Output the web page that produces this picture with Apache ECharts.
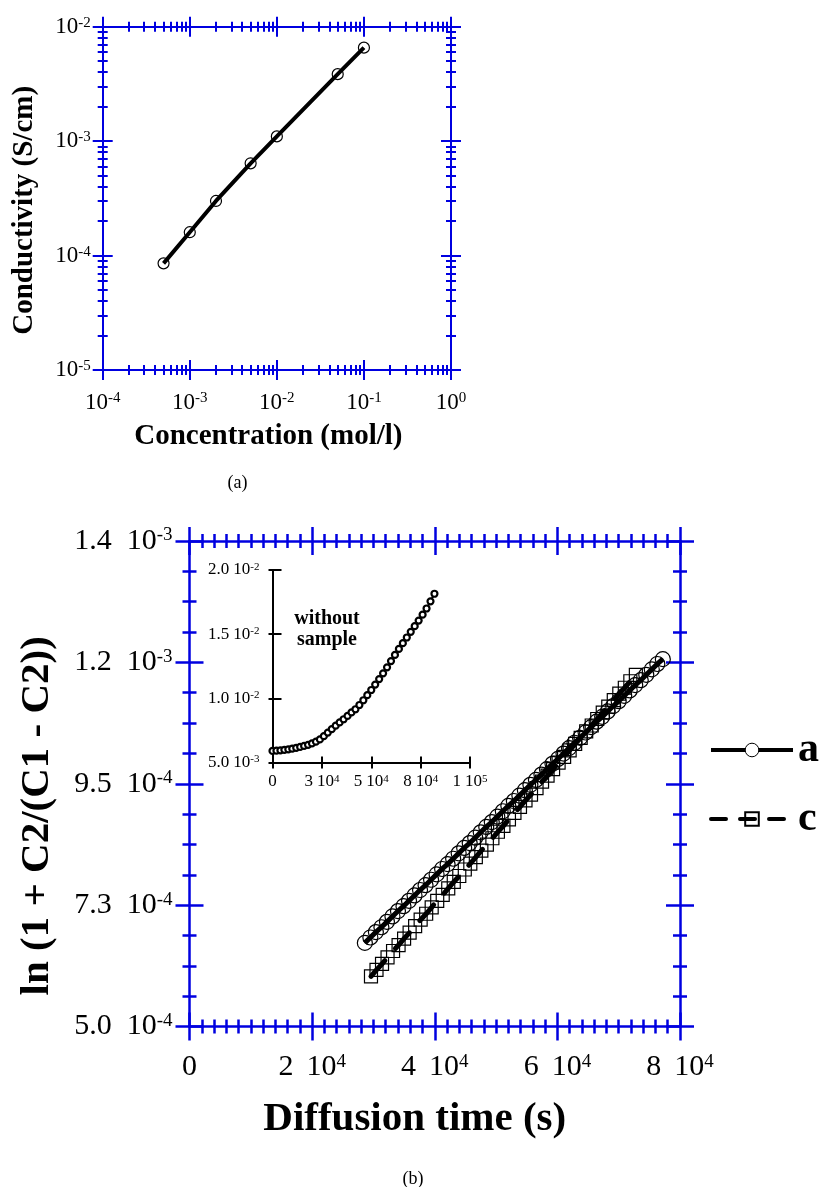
<!DOCTYPE html>
<html>
<head>
<meta charset="utf-8">
<script src="https://cdn.jsdelivr.net/npm/echarts@6.0.0/dist/echarts.min.js"></script>
<style>
  html, body { margin: 0; padding: 0; background: #fff; }
  #chart { width: 821px; height: 1187px; }
</style>
</head>
<body>
<div id="chart"></div>
<script>
// ---------- (a) conductivity vs concentration ----------
const concA = [5e-4, 1e-3, 2e-3, 5e-3, 1e-2, 5e-2, 1e-1];
const condA = [8.55e-5, 1.6e-4, 3.0e-4, 6.4e-4, 1.1e-3, 3.85e-3, 6.56e-3];

// ---------- (b) diffusion runs a and c ----------
const timeA = [28600, 29500, 30400, 31300, 32200, 33100, 34000, 34900, 35800, 36700,
  37600, 38500, 39400, 40300, 41200, 42100, 43000, 43900, 44800, 45700,
  46600, 47500, 48400, 49300, 50200, 51100, 52000, 52900, 53800, 54700,
  55600, 56500, 57400, 58300, 59200, 60100, 61000, 61900, 62800, 63700,
  64600, 65500, 66400, 67300, 68200, 69100, 70000, 70900, 71800, 72700,
  73600, 74500, 75400, 76300, 77200];
const lnA = [6.55e-4, 6.65e-4, 6.75e-4, 6.84e-4, 6.94e-4, 7.04e-4, 7.14e-4, 7.23e-4, 7.33e-4, 7.43e-4,
  7.53e-4, 7.62e-4, 7.72e-4, 7.82e-4, 7.92e-4, 8.01e-4, 8.11e-4, 8.21e-4, 8.31e-4, 8.40e-4,
  8.50e-4, 8.60e-4, 8.70e-4, 8.79e-4, 8.89e-4, 8.99e-4, 9.09e-4, 9.18e-4, 9.28e-4, 9.38e-4,
  9.48e-4, 9.57e-4, 9.67e-4, 9.77e-4, 9.87e-4, 9.96e-4, 10.06e-4, 10.16e-4, 10.26e-4, 10.35e-4,
  10.45e-4, 10.55e-4, 10.65e-4, 10.74e-4, 10.84e-4, 10.94e-4, 11.03e-4, 11.13e-4, 11.23e-4, 11.33e-4,
  11.42e-4, 11.52e-4, 11.62e-4, 11.72e-4, 11.81e-4];

const timeC = [29600, 30500, 31400, 32300, 33200, 34100, 35000, 35900, 36800, 37700,
  38600, 39500, 40400, 41300, 42200, 43100, 44000, 44900, 45800, 46700,
  47600, 48500, 49400, 50300, 51200, 52100, 53000, 53900, 54800, 55700,
  56600, 57500, 58400, 59300, 60200, 61100, 62000, 62900, 63800, 64700,
  65600, 66500, 67400, 68300, 69200, 70100, 71000, 71900, 72800];
const lnC = [5.93e-4, 6.05e-4, 6.16e-4, 6.28e-4, 6.40e-4, 6.51e-4, 6.63e-4, 6.74e-4, 6.86e-4, 6.98e-4,
  7.09e-4, 7.21e-4, 7.33e-4, 7.44e-4, 7.56e-4, 7.68e-4, 7.79e-4, 7.91e-4, 8.02e-4, 8.14e-4,
  8.26e-4, 8.37e-4, 8.49e-4, 8.61e-4, 8.72e-4, 8.84e-4, 8.96e-4, 9.07e-4, 9.19e-4, 9.30e-4,
  9.42e-4, 9.54e-4, 9.65e-4, 9.77e-4, 9.89e-4, 10.00e-4, 10.12e-4, 10.24e-4, 10.35e-4, 10.47e-4,
  10.58e-4, 10.70e-4, 10.82e-4, 10.93e-4, 11.05e-4, 11.17e-4, 11.28e-4, 11.40e-4, 11.52e-4];

// ---------- inset: run without sample ----------
const timeBlank = [0, 2000, 4000, 6000, 8000, 10000, 12000, 14000, 16000, 18000,
  20000, 22000, 24000, 26000, 28000, 30000, 32000, 34000, 36000, 38000,
  40000, 42000, 44000, 46000, 48000, 50000, 52000, 54000, 56000, 58000,
  60000, 62000, 64000, 66000, 68000, 70000, 72000, 74000, 76000, 78000,
  80000, 82000];
const lnBlank = [5.90e-3, 5.92e-3, 5.95e-3, 5.99e-3, 6.03e-3, 6.08e-3, 6.14e-3, 6.21e-3, 6.29e-3, 6.38e-3,
  6.49e-3, 6.62e-3, 6.80e-3, 7.05e-3, 7.33e-3, 7.60e-3, 7.87e-3, 8.12e-3, 8.37e-3, 8.63e-3,
  8.90e-3, 9.15e-3, 9.48e-3, 9.85e-3, 10.25e-3, 10.65e-3, 11.07e-3, 11.50e-3, 11.95e-3, 12.42e-3,
  12.90e-3, 13.38e-3, 13.85e-3, 14.30e-3, 14.74e-3, 15.18e-3, 15.62e-3, 16.06e-3, 16.52e-3, 17.00e-3,
  17.56e-3, 18.15e-3];

// ---------- tick values and their printed text ----------
const aXTicks = [1e-4, 1e-3, 1e-2, 1e-1, 1];
const aXTickText = [['', '-4'], ['', '-3'], ['', '-2'], ['', '-1'], ['', '0']];
const aYTicks = [1e-5, 1e-4, 1e-3, 1e-2];
const aYTickText = [['', '-5'], ['', '-4'], ['', '-3'], ['', '-2']];
const bXTicks = [0, 2e4, 4e4, 6e4, 8e4];
const bXTickText = [['0', ''], ['2', '4'], ['4', '4'], ['6', '4'], ['8', '4']];
const bYTicks = [5.0e-4, 7.25e-4, 9.5e-4, 1.175e-3, 1.4e-3];
const bYTickText = [['5.0', '-4'], ['7.3', '-4'], ['9.5', '-4'], ['1.2', '-3'], ['1.4', '-3']];
const inXTicks = [0, 2.5e4, 5e4, 7.5e4, 1e5];
const inXTickText = [['0', ''], ['3', '4'], ['5', '4'], ['8', '4'], ['1', '5']];
const inYTicks = [5e-3, 1e-2, 1.5e-2, 2e-2];
const inYTickText = [['5.0', '-3'], ['1.0', '-2'], ['1.5', '-2'], ['2.0', '-2']];

const SERIF = 'Liberation Serif';
const BLUE = '#0000e0';

// minor ticks: 2..9 inside each decade, or equal parts between linear majors
function logMinor(decades) {
  const out = [];
  for (let i = 0; i < decades.length - 1; i++) {
    for (let k = 2; k <= 9; k++) out.push(k * decades[i]);
  }
  return out;
}
function linearMinor(majors, parts) {
  const out = [];
  for (let i = 0; i < majors.length - 1; i++) {
    const step = (majors[i + 1] - majors[i]) / parts;
    for (let k = 1; k < parts; k++) out.push(majors[i] + k * step);
  }
  return out;
}

function sciFormatter(ticks, texts) {
  return function (value) {
    const i = ticks.findIndex(t => Math.abs(t - value) <= Math.abs(t) * 1e-6 + 1e-15);
    if (i < 0) return '';
    const m = texts[i][0], e = texts[i][1];
    if (!e) return '{m|' + m + '}';
    return (m ? '{m|' + m + '}{t|10}' : '{u|10}') + '{s|' + e + '}';
  };
}
function richSet(size, supSize, supLine, gap) {
  const base = { fontFamily: SERIF, fontSize: size, lineHeight: size, color: '#000' };
  return {
    m: Object.assign({}, base),
    t: Object.assign({}, base, { padding: [0, 0, 0, gap] }),
    u: Object.assign({}, base),
    s: { fontFamily: SERIF, fontSize: supSize, lineHeight: supLine, verticalAlign: 'top', color: '#000' }
  };
}

// ---------- axis frames: a line axis per side plus crossing tick axes ----------
const xAxes = [], yAxes = [];

function baseAxis(o, position) {
  const a = {
    gridIndex: o.grid, position: position, type: o.type, min: o.min, max: o.max,
    axisLine: { show: false, onZero: false },
    axisTick: { show: false },
    axisLabel: { show: false },
    splitLine: { show: false },
    minorTick: { show: false },
    minorSplitLine: { show: false },
    silent: true
  };
  if (o.type === 'log') a.logBase = 10;
  return a;
}

function buildFrame(list, o) {
  let mainIndex = -1;
  o.sides.forEach(side => {
    const main = baseAxis(o, side);
    main.axisLine = { show: true, onZero: false, lineStyle: { color: o.color, width: o.width } };
    if (side === o.labelSide) {
      main.axisLabel = o.label;
      if (o.name) Object.assign(main, o.name);
      mainIndex = list.length;
    }
    list.push(main);
    o.ticks.forEach(t => {
      [[t.inLen, true], [t.outLen, false]].forEach(([len, inside]) => {
        if (!len) return;
        const a = baseAxis(o, side);
        a.axisTick = {
          show: true, inside: inside, length: len, customValues: t.values,
          lineStyle: { color: o.color, width: o.width }
        };
        list.push(a);
      });
    });
  });
  return mainIndex;
}

// (a)
const axA = buildFrame(xAxes, {
  grid: 0, type: 'log', min: 1e-4, max: 1, color: BLUE, width: 2,
  sides: ['bottom', 'top'], labelSide: 'bottom',
  ticks: [{ values: aXTicks, inLen: 10, outLen: 10 }, { values: logMinor(aXTicks), inLen: 5, outLen: 5 }],
  label: { show: true, customValues: aXTicks, margin: 21, formatter: sciFormatter(aXTicks, aXTickText), rich: richSet(23, 15, 8, 0) },
  name: {
    name: 'Concentration (mol/l)', nameLocation: 'middle', nameGap: 52, nameMoveOverlap: false,
    nameTextStyle: { fontFamily: SERIF, fontSize: 29, fontWeight: 'bold', color: '#000', padding: [0, 17, 0, 0] }
  }
});
const ayA = buildFrame(yAxes, {
  grid: 0, type: 'log', min: 1e-5, max: 1e-2, color: BLUE, width: 2,
  sides: ['left', 'right'], labelSide: 'left',
  ticks: [{ values: aYTicks, inLen: 10, outLen: 10 }, { values: logMinor(aYTicks), inLen: 5, outLen: 5 }],
  label: { show: true, customValues: aYTicks, margin: 12, formatter: sciFormatter(aYTicks, aYTickText), rich: richSet(23, 15, 8, 0) },
  name: {
    name: 'Conductivity (S/cm)', nameLocation: 'middle', nameGap: 64, nameMoveOverlap: false,
    nameTextStyle: { fontFamily: SERIF, fontSize: 29, fontWeight: 'bold', color: '#000', padding: [0, 24, 0, 0] }
  }
});

// (b)
const axB = buildFrame(xAxes, {
  grid: 1, type: 'value', min: 0, max: 8e4, color: BLUE, width: 2.5,
  sides: ['bottom', 'top'], labelSide: 'bottom',
  ticks: [{ values: bXTicks, inLen: 14, outLen: 14 }, { values: linearMinor(bXTicks, 10), inLen: 7, outLen: 7 }],
  label: { show: true, customValues: bXTicks, margin: 26, formatter: sciFormatter(bXTicks, bXTickText), rich: richSet(30, 19, 22, 13) },
  name: {
    name: 'Diffusion time (s)', nameLocation: 'middle', nameGap: 72, nameMoveOverlap: false,
    nameTextStyle: { fontFamily: SERIF, fontSize: 41, fontWeight: 'bold', color: '#000', padding: [0, 40, 0, 0] }
  }
});
const ayB = buildFrame(yAxes, {
  grid: 1, type: 'value', min: 5e-4, max: 1.4e-3, color: BLUE, width: 2.5,
  sides: ['left', 'right'], labelSide: 'left',
  ticks: [{ values: bYTicks, inLen: 14, outLen: 14 }, { values: linearMinor(bYTicks, 4), inLen: 7, outLen: 7 }],
  label: { show: true, customValues: bYTicks, margin: 17, formatter: sciFormatter(bYTicks, bYTickText), rich: richSet(30, 19, 5, 15) },
  name: {
    name: 'ln (1 + C2/(C1 - C2))', nameLocation: 'middle', nameGap: 132, nameMoveOverlap: false,
    nameTextStyle: { fontFamily: SERIF, fontSize: 41, fontWeight: 'bold', color: '#000', padding: [0, 64, 0, 0] }
  }
});

// inset
const axIn = buildFrame(xAxes, {
  grid: 2, type: 'value', min: 0, max: 1e5, color: '#000', width: 2,
  sides: ['bottom'], labelSide: 'bottom',
  ticks: [{ values: inXTicks, inLen: 6, outLen: 6 }],
  label: { show: true, customValues: inXTicks, margin: 11, formatter: sciFormatter(inXTicks, inXTickText), rich: richSet(17, 11, 6, 4) }
});
const ayIn = buildFrame(yAxes, {
  grid: 2, type: 'value', min: 5e-3, max: 2e-2, color: '#000', width: 2,
  sides: ['left'], labelSide: 'left',
  ticks: [{ values: inYTicks, inLen: 9, outLen: 4 }],
  label: { show: true, customValues: inYTicks, margin: 13, formatter: sciFormatter(inYTicks, inYTickText), rich: richSet(17, 11, 4, 4) }
});

const hollow = { color: 'rgba(0,0,0,0)', borderColor: '#000', borderWidth: 1.2 };

const option = {
  animation: false,
  backgroundColor: '#fff',
  grid: [
    { left: 102.7, top: 26.7, width: 348.3, height: 343.3, containLabel: false, outerBoundsMode: 'none' },
    { left: 189.5, top: 541, width: 490.5, height: 485.5, containLabel: false, outerBoundsMode: 'none' },
    { left: 272.5, top: 570, width: 197.5, height: 192.5, containLabel: false, outerBoundsMode: 'none' }
  ],
  xAxis: xAxes,
  yAxis: yAxes,
  legend: {
    orient: 'vertical', left: 704, top: 724,
    itemWidth: 82, itemHeight: 17, itemGap: 27,
    selectedMode: false,
    data: [
      { name: 'a', itemStyle: { color: '#fff', borderColor: '#000', borderWidth: 1 }, lineStyle: { width: 4 } },
      { name: 'c', lineStyle: { width: 4, type: [15, 14] } }
    ],
    textStyle: { fontFamily: SERIF, fontSize: 42, fontWeight: 'bold', color: '#000' }
  },
  graphic: [
    { type: 'text', x: 237.5, y: 483, style: { text: '(a)', font: '18px "Liberation Serif"', fill: '#000', align: 'center', verticalAlign: 'middle' } },
    { type: 'text', x: 413, y: 1179, style: { text: '(b)', font: '18px "Liberation Serif"', fill: '#000', align: 'center', verticalAlign: 'middle' } },
    { type: 'text', x: 327, y: 629, z: 10, style: { text: 'without\nsample', font: 'bold 20px "Liberation Serif"', lineHeight: 21, fill: '#000', align: 'center', verticalAlign: 'middle' } }
  ],
  series: [
    {
      name: 'conductivity', type: 'line', xAxisIndex: axA, yAxisIndex: ayA,
      data: concA.map((c, i) => [c, condA[i]]),
      symbol: 'circle', symbolSize: 11, itemStyle: hollow,
      lineStyle: { color: '#000', width: 4 }, z: 5
    },
    {
      name: 'a', type: 'line', xAxisIndex: axB, yAxisIndex: ayB,
      data: timeA.map((t, i) => [t, lnA[i]]),
      symbol: 'circle', symbolSize: 15, itemStyle: hollow,
      lineStyle: { color: '#000', width: 5 }, z: 5
    },
    {
      name: 'c', type: 'line', xAxisIndex: axB, yAxisIndex: ayB,
      data: timeC.map((t, i) => [t, lnC[i]]),
      symbol: 'rect', symbolSize: 13, itemStyle: hollow,
      lineStyle: { color: '#000', width: 5, type: [21, 16], cap: 'round' }, z: 5
    },
    {
      name: 'without sample', type: 'line', xAxisIndex: axIn, yAxisIndex: ayIn,
      data: timeBlank.map((t, i) => [t, lnBlank[i]]),
      symbol: 'circle', symbolSize: 6,
      itemStyle: { color: '#fff', borderColor: '#000', borderWidth: 2.2 },
      lineStyle: { color: '#000', width: 2 }, z: 5
    }
  ]
};

const chart = echarts.init(document.getElementById('chart'), null, { renderer: 'canvas' });
chart.setOption(option);
</script>
</body>
</html>
